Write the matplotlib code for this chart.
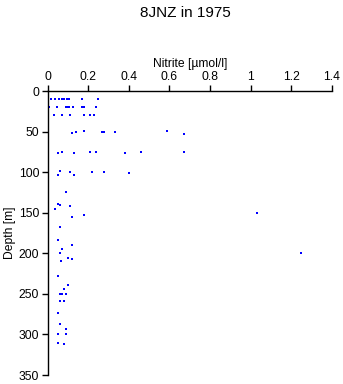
import matplotlib
matplotlib.use("Agg")
import matplotlib.pyplot as plt

# nitrite (umol/l) and depth (m)
nitrite = [0.02, 0.03, 0.09, 0.11, 0.17, 0.19,
           0.016, 0.037, 0.058, 0.07, 0.083, 0.095, 0.106, 0.17, 0.25,
           0.007, 0.048, 0.09, 0.095, 0.105, 0.124, 0.17, 0.18, 0.24,
           0.03, 0.07, 0.11, 0.18, 0.21, 0.23,
           0.12, 0.14, 0.18, 0.27, 0.28, 0.33, 0.59, 0.67,
           0.05, 0.07, 0.13, 0.21, 0.24, 0.38, 0.46, 0.67,
           0.06, 0.05, 0.11, 0.13, 0.22, 0.28, 0.40,
           0.09, 0.05, 0.06, 0.038, 0.11, 0.12, 0.18, 1.03,
           0.06, 0.05, 0.12, 0.071, 0.06, 1.247, 0.10, 0.12, 0.068,
           0.05, 0.10, 0.083, 0.06, 0.07, 0.09, 0.06, 0.083,
           0.05, 0.06, 0.09, 0.05, 0.09, 0.05, 0.083]
depth = [0, 0, 0, 0, 0, 0,
         10, 10, 10, 10, 10, 10, 10, 10, 10,
         20, 20, 20, 20, 20, 20, 20, 20, 20,
         30, 30, 30, 29, 30, 30,
         52, 51, 49, 50, 50, 50, 49, 53,
         77, 75, 77, 75, 75, 76, 75, 75,
         98, 104, 100, 103, 100, 100, 101,
         125, 139, 140, 146, 142, 155, 153, 150,
         167, 183, 190, 195, 200, 200, 206, 207, 209,
         228, 239, 244, 250, 250, 250, 259, 259,
         273, 287, 293, 300, 300, 310, 312]

xticks = [0, 0.2, 0.4, 0.6, 0.8, 1, 1.2, 1.4]
xtick_labels = ["0", "0.2", "0.4", "0.6", "0.8", "1", "1.2", "1.4"]
yticks = [0, 50, 100, 150, 200, 250, 300, 350]

plt.rcParams['font.family'] = ['Liberation Sans', 'DejaVu Sans']

fig = plt.figure(figsize=(3.43, 3.84), dpi=100)
ax = fig.add_axes([0.1385, 0.0234, 0.8295, 0.7396])

ax.plot(nitrite, depth, linestyle='none', marker='s', markersize=2.1,
        color='#0000ff', markeredgewidth=0)

ax.set_xlim(0, 1.4)
ax.set_ylim(350, 0)
ax.xaxis.tick_top()
ax.xaxis.set_label_position('top')
ax.set_xticks(xticks)
ax.set_xticklabels(xtick_labels)
ax.set_yticks(yticks)
ax.tick_params(labelsize=8.7, length=4, width=1, pad=2)
ax.spines['right'].set_visible(False)
ax.spines['bottom'].set_visible(False)
ax.spines['left'].set_linewidth(1)
ax.spines['top'].set_linewidth(1)

ax.set_xlabel("Nitrite [\u00b5mol/l]", fontsize=8.7, labelpad=3)
ax.set_ylabel("Depth [m]", fontsize=8.7, labelpad=2)

fig.text(0.54, 0.965, "8JNZ in 1975", ha='center', va='center', fontsize=11)

fig.savefig("out.png", dpi=100)
